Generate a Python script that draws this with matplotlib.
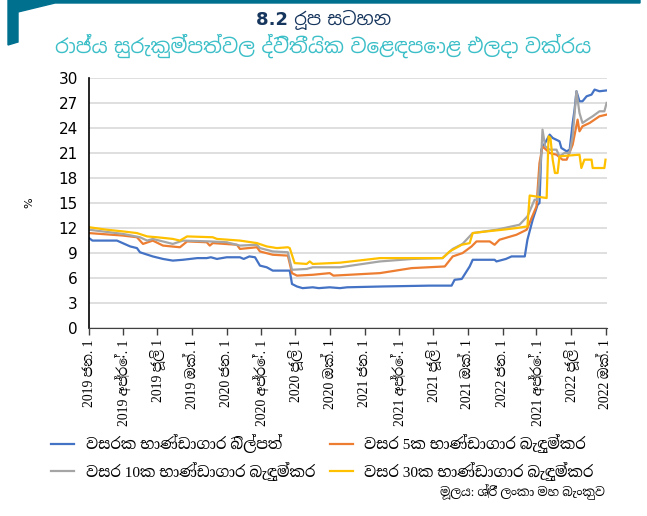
import pandas as pd
import matplotlib.pyplot as plt
from matplotlib.patches import Polygon

plt.rcParams['font.family'] = ['DejaVu Sans', 'Noto Sans Sinhala']
SERIF = ['Liberation Serif', 'Noto Serif Sinhala']

# 1 year treasury bill
bill_dates = ["2019-01-01", "2019-01-10", "2019-03-16", "2019-04-20", "2019-05-08", "2019-05-16",
              "2019-06-19", "2019-07-16", "2019-08-11", "2019-09-07", "2019-10-15", "2019-11-09",
              "2019-11-20", "2019-12-06", "2020-01-01", "2020-02-05", "2020-02-15", "2020-03-01",
              "2020-03-16", "2020-03-29", "2020-04-16", "2020-05-02", "2020-06-16", "2020-06-22",
              "2020-07-05", "2020-07-20", "2020-08-16", "2020-09-01", "2020-09-30", "2020-10-27",
              "2020-11-15", "2021-02-17", "2021-06-22", "2021-08-19", "2021-08-27", "2021-09-15",
              "2021-10-06", "2021-10-14", "2021-12-11", "2021-12-16", "2022-01-10", "2022-01-25",
              "2022-03-01", "2022-03-08", "2022-03-22", "2022-04-04", "2022-04-09", "2022-04-14",
              "2022-05-06", "2022-05-14", "2022-06-01", "2022-06-06", "2022-06-20", "2022-06-28",
              "2022-07-06", "2022-07-11", "2022-07-16", "2022-07-24", "2022-08-01", "2022-08-12",
              "2022-08-25", "2022-09-02", "2022-09-15", "2022-10-04"]
bill_vals = [10.8, 10.5, 10.5, 9.8, 9.6, 9.1,
             8.6, 8.3, 8.1, 8.2, 8.4, 8.4,
             8.5, 8.3, 8.5, 8.5, 8.3, 8.6,
             8.5, 7.5, 7.3, 6.9, 6.9, 5.3,
             5.0, 4.8, 4.9, 4.8, 4.9, 4.8,
             4.9, 5.0, 5.1, 5.1, 5.8, 5.9,
             7.4, 8.2, 8.2, 8.0, 8.3, 8.6,
             8.6, 10.6, 13.0, 14.8, 15.0, 21.4,
             23.2, 22.8, 22.4, 21.6, 21.2, 21.4,
             24.6, 26.2, 28.4, 27.2, 27.2, 27.8,
             28.0, 28.6, 28.4, 28.5]

# 5 year bond
b5_dates = ["2019-01-01", "2019-04-01", "2019-05-08", "2019-05-24", "2019-06-19", "2019-07-16",
            "2019-08-30", "2019-09-18", "2019-11-09", "2019-11-17", "2019-11-25", "2020-01-28",
            "2020-02-05", "2020-03-21", "2020-03-29", "2020-05-02", "2020-06-11", "2020-06-22",
            "2020-07-05", "2020-08-16", "2020-09-30", "2020-10-10", "2021-02-10", "2021-05-05",
            "2021-08-01", "2021-08-22", "2021-09-17", "2021-10-11", "2021-10-24", "2021-11-28",
            "2021-12-11", "2021-12-24", "2022-02-07", "2022-03-06", "2022-04-01", "2022-04-09",
            "2022-04-17", "2022-05-06", "2022-05-24", "2022-06-09", "2022-06-20", "2022-07-06",
            "2022-07-19", "2022-07-24", "2022-08-01", "2022-08-20", "2022-09-02", "2022-09-15",
            "2022-10-04"]
b5_vals = [11.4, 11.1, 10.9, 10.1, 10.5, 9.9,
           9.7, 10.4, 10.3, 9.9, 10.2, 10.0,
           9.5, 9.7, 9.2, 8.8, 8.7, 6.6,
           6.3, 6.4, 6.6, 6.3, 6.6, 7.2,
           7.4, 8.6, 9.0, 9.8, 10.4, 10.4,
           10.0, 10.6, 11.2, 11.8, 14.6, 19.8,
           21.8, 21.0, 20.8, 20.2, 20.2, 22.0,
           25.0, 23.6, 24.2, 24.6, 25.0, 25.4,
           25.6]

# 10 year bond
b10_dates = ["2019-01-01", "2019-04-01", "2019-05-16", "2019-06-04", "2019-06-19", "2019-08-11",
             "2019-09-07", "2019-11-17", "2020-01-01", "2020-02-05", "2020-03-21", "2020-03-29",
             "2020-05-02", "2020-06-11", "2020-06-22", "2020-07-31", "2020-08-16", "2020-10-27",
             "2021-02-10", "2021-05-08", "2021-07-26", "2021-08-22", "2021-09-17", "2021-10-14",
             "2021-12-16", "2022-02-15", "2022-03-08", "2022-03-27", "2022-04-04", "2022-04-14",
             "2022-04-17", "2022-04-24", "2022-05-06", "2022-05-24", "2022-06-01", "2022-06-14",
             "2022-06-28", "2022-07-06", "2022-07-16", "2022-07-24", "2022-08-01", "2022-08-14",
             "2022-08-28", "2022-09-15", "2022-09-28", "2022-10-04"]
b10_vals = [11.8, 11.3, 10.9, 10.5, 10.7, 10.1,
            10.5, 10.4, 10.3, 9.9, 10.0, 9.6,
            9.2, 9.1, 7.0, 7.1, 7.3, 7.3,
            8.0, 8.3, 8.4, 9.5, 10.1, 11.4,
            11.8, 12.4, 13.4, 15.4, 15.4, 21.0,
            23.8, 21.8, 21.4, 21.4, 20.6, 21.0,
            21.0, 23.0, 28.4, 25.8, 24.6, 25.0,
            25.4, 26.0, 26.0, 27.0]

# 30 year bond
b30_dates = ["2019-01-01", "2019-02-18", "2019-04-01", "2019-05-08", "2019-06-04", "2019-06-30",
             "2019-08-11", "2019-08-30", "2019-09-18", "2019-11-25", "2019-12-06", "2020-02-05",
             "2020-03-21", "2020-04-16", "2020-05-13", "2020-06-11", "2020-06-16", "2020-06-29",
             "2020-07-31", "2020-08-08", "2020-08-16", "2020-10-27", "2021-02-10", "2021-07-26",
             "2021-08-14", "2021-09-15", "2021-10-06", "2021-10-14", "2021-11-20", "2022-01-01",
             "2022-02-07", "2022-03-08", "2022-03-14", "2022-04-28", "2022-05-03", "2022-05-08",
             "2022-05-14", "2022-05-20", "2022-05-27", "2022-06-01", "2022-07-24", "2022-07-29",
             "2022-08-06", "2022-08-25", "2022-08-28", "2022-09-28", "2022-10-01"]
b30_vals = [12.1, 11.8, 11.6, 11.4, 11.0, 10.9,
            10.7, 10.5, 11.0, 10.9, 10.7, 10.5,
            10.2, 9.8, 9.6, 9.7, 9.6, 7.8,
            7.7, 8.0, 7.7, 7.85, 8.4, 8.4,
            9.2, 10.0, 10.2, 11.4, 11.6, 11.8,
            12.0, 12.2, 15.9, 15.6, 23.0, 22.8,
            20.2, 18.6, 18.6, 20.6, 20.8, 19.2,
            20.2, 20.2, 19.2, 19.2, 20.2]

tick_labels = ["2019 ජන. 1", "2019 අප්‍රේ. 1", "2019 ජූලි 1", "2019 ඔක්. 1",
               "2020 ජන. 1", "2020 අප්‍රේ. 1", "2020 ජූලි 1", "2020 ඔක්. 1",
               "2021 ජන. 1", "2021 අප්‍රේ. 1", "2021 ජූලි 1", "2021 ඔක්. 1",
               "2022 ජන. 1", "2021 අප්‍රේ. 1", "2022 ජූලි 1", "2022 ඔක්. 1"]
tick_dates = pd.date_range("2019-01-01", "2022-10-01", freq="QS")

labels = ["වසරක භාණ්ඩාගාර බිල්පත්", "වසර 5ක භාණ්ඩාගාර බැඳුම්කර",
          "වසර 10ක භාණ්ඩාගාර බැඳුම්කර", "වසර 30ක භාණ්ඩාගාර බැඳුම්කර"]
colors = ["#4472C4", "#ED7D31", "#A5A5A5", "#FFC000"]

fig = plt.figure(figsize=(6.47, 5.16), dpi=100)
ax = fig.add_axes([0.1376, 0.364, 0.8006, 0.485])

series = [(bill_dates, bill_vals), (b5_dates, b5_vals), (b10_dates, b10_vals), (b30_dates, b30_vals)]
lines = []
for (d, v), c, lab in zip(series, colors, labels):
    ln, = ax.plot(pd.to_datetime(d), v, color=c, lw=1.6, label=lab)
    lines.append(ln)

ax.set_xlim(pd.Timestamp("2019-01-01"), pd.Timestamp("2022-10-05"))
ax.set_ylim(0, 30)
ax.set_yticks(range(0, 31, 3))
ax.yaxis.grid(True, color="#d9d9d9", lw=1.2)
ax.set_axisbelow(True)
ax.tick_params(axis="y", length=0, labelsize=11, pad=8)
ax.set_xticks(tick_dates)
ax.set_xticklabels(tick_labels, rotation=90, family=SERIF, fontsize=9.8)
ax.tick_params(axis="x", direction="out", length=5, width=1, color="#404040", pad=3)
for s in ["top", "right"]:
    ax.spines[s].set_visible(False)
ax.spines["left"].set_linewidth(1.2)
ax.spines["bottom"].set_color("#404040")
ax.set_ylabel("%", rotation=90, fontsize=8)
ax.yaxis.set_label_coords(-0.105, 0.5)

# legend: two columns placed separately
leg_kw = dict(loc="upper left", frameon=False, prop={"family": SERIF, "size": 11},
              handlelength=1.5, handletextpad=0.75, labelspacing=0.55, borderaxespad=0)
leg1 = fig.legend([lines[0], lines[2]], [labels[0], labels[2]],
                  bbox_to_anchor=(0.07, 0.17), **leg_kw)
leg2 = fig.legend([lines[1], lines[3]], [labels[1], labels[3]],
                  bbox_to_anchor=(0.5, 0.17), **leg_kw)

fig.text(0.935, 0.038, "මූලය: ශ්‍රී ලංකා මහ බැංකුව", ha="right", fontsize=9, family=SERIF)

# titles
fig.text(0.5, 0.962, "8.2 රූප සටහන", ha="center", va="center", fontsize=13,
         fontweight="bold", color="#17365D")
fig.text(0.5, 0.912, "රාජ්‍ය සුරැකුම්පත්වල ද්විතීයික වෙළඳපොළ එලදා වක්‍රය", ha="center",
         va="center", fontsize=14.3, color="#3DBFC8")

# teal header frame
W, H = 647.0, 516.0
frame = [(8, 0), (640, 0), (640, 3), (55, 3), (18, 12), (18, 42), (8, 45)]
fig.patches.append(Polygon([(x / W, 1 - y / H) for x, y in frame], closed=True,
                           transform=fig.transFigure, color="#00708F", zorder=0))

fig.savefig("out.png", dpi=100)
